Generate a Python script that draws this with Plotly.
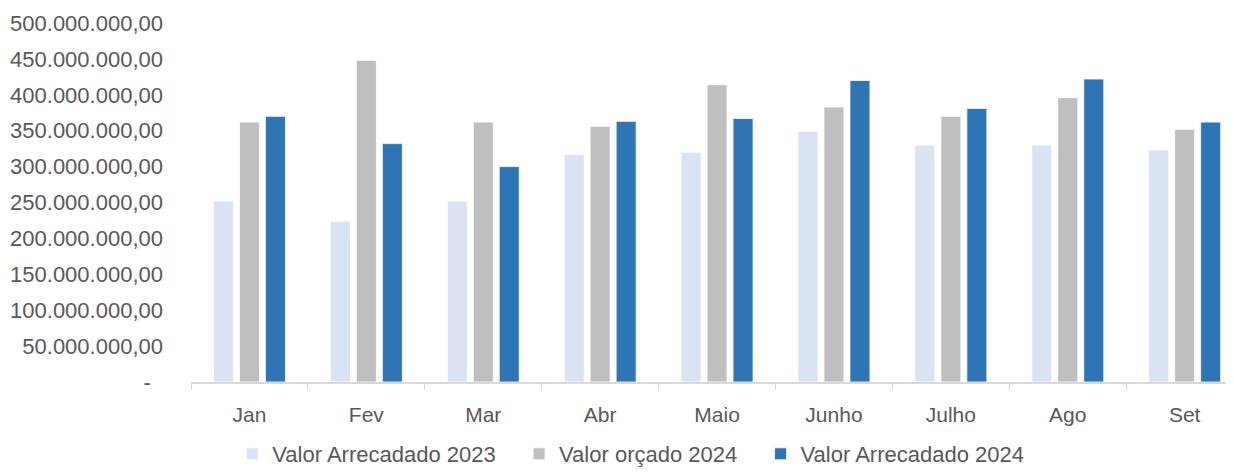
import plotly.graph_objects as go

meses = ['Jan', 'Fev', 'Mar', 'Abr', 'Maio', 'Junho', 'Julho', 'Ago', 'Set']
arrecadado_2023 = [252e6, 224e6, 252e6, 317e6, 320e6, 349e6, 330e6, 330e6, 323e6]
orcado_2024 = [362e6, 448e6, 362e6, 356e6, 414e6, 383e6, 370e6, 396e6, 352e6]
arrecadado_2024 = [370e6, 332e6, 300e6, 363e6, 367e6, 420e6, 381e6, 422e6, 362e6]
y_ticks = [0, 50e6, 100e6, 150e6, 200e6, 250e6, 300e6, 350e6, 400e6, 450e6, 500e6]


def fmt_br(v):
    # formato brasileiro: 500.000.000,00 ; zero aparece como "-"
    if v == 0:
        return '-\u00a0\u00a0'
    return f'{v:,.2f}'.replace(',', 'X').replace('.', ',').replace('X', '.')


font = 'Liberation Sans, Arial, sans-serif'
grey_txt = '#595959'
pad = '\u00a0\u00a0\u00a0'  # espaco extra entre itens da legenda

fig = go.Figure()
fig.add_trace(go.Bar(x=meses, y=arrecadado_2023, name='Valor Arrecadado 2023' + pad,
                     marker=dict(color='#DAE3F3', line=dict(color='white', width=0.8))))
fig.add_trace(go.Bar(x=meses, y=orcado_2024, name='Valor orçado 2024' + pad,
                     marker=dict(color='#BFBFBF', line=dict(color='white', width=0.8))))
fig.add_trace(go.Bar(x=meses, y=arrecadado_2024, name='Valor Arrecadado 2024',
                     marker=dict(color='#2E75B6', line=dict(color='white', width=0.8))))

# a pagina e deslocada 8px pela margem do body
fig.update_layout(
    width=1226, height=467,
    barmode='group',
    bargap=0.333,
    bargroupgap=0.23,
    plot_bgcolor='white',
    paper_bgcolor='white',
    font=dict(family=font, size=22, color=grey_txt),
    margin=dict(l=183, r=0, t=15, b=93, autoexpand=False),
    legend=dict(
        orientation='h',
        xref='container', yref='container',
        x=0.508, xanchor='center',
        y=-0.012, yanchor='bottom',
        font=dict(size=22, color=grey_txt),
        itemwidth=30,
        traceorder='normal',
    ),
)

fig.update_xaxes(
    type='category',
    range=[-0.5, 8.422],
    showline=True, linecolor='#D9D9D9', linewidth=1.5,
    ticks='outside', tickson='boundaries', ticklen=6, tickcolor='#D9D9D9',
    showgrid=False,
    tickfont=dict(size=21, color=grey_txt),
    ticklabelstandoff=13,
)
fig.update_yaxes(
    range=[0, 500e6],
    tickvals=y_ticks,
    ticktext=[fmt_br(v) for v in y_ticks],
    showgrid=False, zeroline=False, showline=False,
    tickfont=dict(size=22, color=grey_txt),
    ticklabelstandoff=27,
)

fig.write_html('out.html')
